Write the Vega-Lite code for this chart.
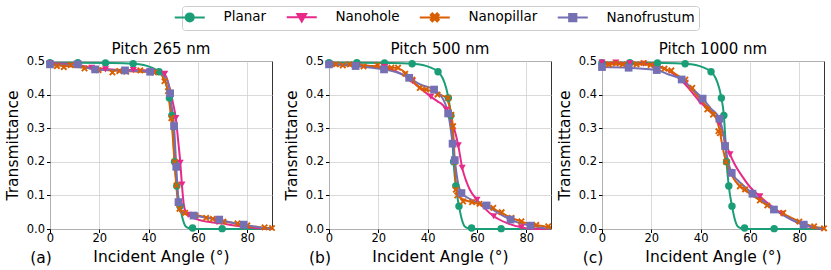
{
"$schema": "https://vega.github.io/schema/vega-lite/v6.json",
"padding": {"left": 4, "top": 5, "right": 5, "bottom": 5},
"config": {
  "font": "DejaVu Sans",
  "view": {"stroke": "#333333", "strokeWidth": 1},
  "axis": {"labelFont": "DejaVu Sans", "labelFontSize": 11.5, "labelColor": "black", "titleFont": "DejaVu Sans", "titleFontSize": 15.5, "titleFontWeight": "normal", "titleColor": "black", "tickColor": "black", "tickSize": 3.5, "domain": false, "gridColor": "#d0d0d0", "gridWidth": 0.8, "labelPadding": 2, "labelFlush": false, "labelOverlap": false},
  "axisY": {"titlePadding": 6},
  "axisX": {"titlePadding": 6, "labelPadding": -0.5},
  "title": {"font": "DejaVu Sans", "fontSize": 15, "fontWeight": "normal", "color": "black", "frame": "group", "anchor": "middle", "offset": -2}
},
"data": {"values": [
{"p":"Pitch 265 nm","s":"Planar","k":"f","a":0,"t":0.495},{"p":"Pitch 265 nm","s":"Planar","k":"f","a":25,"t":0.494},{"p":"Pitch 265 nm","s":"Planar","k":"f","a":33.7,"t":0.492},{"p":"Pitch 265 nm","s":"Planar","k":"f","a":38,"t":0.488},{"p":"Pitch 265 nm","s":"Planar","k":"f","a":41,"t":0.481},{"p":"Pitch 265 nm","s":"Planar","k":"f","a":44.2,"t":0.468},{"p":"Pitch 265 nm","s":"Planar","k":"f","a":46,"t":0.45},{"p":"Pitch 265 nm","s":"Planar","k":"f","a":47.5,"t":0.42},{"p":"Pitch 265 nm","s":"Planar","k":"f","a":48.4,"t":0.39},{"p":"Pitch 265 nm","s":"Planar","k":"f","a":49.4,"t":0.338},{"p":"Pitch 265 nm","s":"Planar","k":"f","a":50,"t":0.27},{"p":"Pitch 265 nm","s":"Planar","k":"f","a":50.5,"t":0.2},{"p":"Pitch 265 nm","s":"Planar","k":"f","a":51.4,"t":0.128},{"p":"Pitch 265 nm","s":"Planar","k":"f","a":52.7,"t":0.068},{"p":"Pitch 265 nm","s":"Planar","k":"f","a":53.8,"t":0.03},{"p":"Pitch 265 nm","s":"Planar","k":"f","a":55,"t":0.008},{"p":"Pitch 265 nm","s":"Planar","k":"f","a":56.5,"t":0.002},{"p":"Pitch 265 nm","s":"Planar","k":"f","a":58,"t":0},{"p":"Pitch 265 nm","s":"Planar","k":"f","a":90,"t":0},
{"p":"Pitch 265 nm","s":"Planar","k":"p","a":0,"t":0.495},{"p":"Pitch 265 nm","s":"Planar","k":"p","a":11.3,"t":0.495},{"p":"Pitch 265 nm","s":"Planar","k":"p","a":22.5,"t":0.494},{"p":"Pitch 265 nm","s":"Planar","k":"p","a":33.7,"t":0.492},{"p":"Pitch 265 nm","s":"Planar","k":"p","a":44.2,"t":0.468},{"p":"Pitch 265 nm","s":"Planar","k":"p","a":48.4,"t":0.39},{"p":"Pitch 265 nm","s":"Planar","k":"p","a":49.4,"t":0.338},{"p":"Pitch 265 nm","s":"Planar","k":"p","a":50.5,"t":0.2},{"p":"Pitch 265 nm","s":"Planar","k":"p","a":51.4,"t":0.128},{"p":"Pitch 265 nm","s":"Planar","k":"p","a":52.7,"t":0.068},{"p":"Pitch 265 nm","s":"Planar","k":"p","a":57.8,"t":0.003},{"p":"Pitch 265 nm","s":"Planar","k":"p","a":69.8,"t":0.001},

{"p":"Pitch 500 nm","s":"Planar","k":"f","a":0,"t":0.495},{"p":"Pitch 500 nm","s":"Planar","k":"f","a":25,"t":0.494},{"p":"Pitch 500 nm","s":"Planar","k":"f","a":33.7,"t":0.492},{"p":"Pitch 500 nm","s":"Planar","k":"f","a":38,"t":0.488},{"p":"Pitch 500 nm","s":"Planar","k":"f","a":41,"t":0.481},{"p":"Pitch 500 nm","s":"Planar","k":"f","a":44.2,"t":0.468},{"p":"Pitch 500 nm","s":"Planar","k":"f","a":46,"t":0.45},{"p":"Pitch 500 nm","s":"Planar","k":"f","a":47.5,"t":0.42},{"p":"Pitch 500 nm","s":"Planar","k":"f","a":48.4,"t":0.39},{"p":"Pitch 500 nm","s":"Planar","k":"f","a":49.4,"t":0.338},{"p":"Pitch 500 nm","s":"Planar","k":"f","a":50,"t":0.27},{"p":"Pitch 500 nm","s":"Planar","k":"f","a":50.5,"t":0.2},{"p":"Pitch 500 nm","s":"Planar","k":"f","a":51.4,"t":0.128},{"p":"Pitch 500 nm","s":"Planar","k":"f","a":52.7,"t":0.068},{"p":"Pitch 500 nm","s":"Planar","k":"f","a":53.8,"t":0.03},{"p":"Pitch 500 nm","s":"Planar","k":"f","a":55,"t":0.008},{"p":"Pitch 500 nm","s":"Planar","k":"f","a":56.5,"t":0.002},{"p":"Pitch 500 nm","s":"Planar","k":"f","a":58,"t":0},{"p":"Pitch 500 nm","s":"Planar","k":"f","a":90,"t":0},
{"p":"Pitch 500 nm","s":"Planar","k":"p","a":0,"t":0.495},{"p":"Pitch 500 nm","s":"Planar","k":"p","a":11.3,"t":0.495},{"p":"Pitch 500 nm","s":"Planar","k":"p","a":22.5,"t":0.494},{"p":"Pitch 500 nm","s":"Planar","k":"p","a":33.7,"t":0.492},{"p":"Pitch 500 nm","s":"Planar","k":"p","a":44.2,"t":0.468},{"p":"Pitch 500 nm","s":"Planar","k":"p","a":48.4,"t":0.39},{"p":"Pitch 500 nm","s":"Planar","k":"p","a":49.4,"t":0.338},{"p":"Pitch 500 nm","s":"Planar","k":"p","a":50.5,"t":0.2},{"p":"Pitch 500 nm","s":"Planar","k":"p","a":51.4,"t":0.128},{"p":"Pitch 500 nm","s":"Planar","k":"p","a":52.7,"t":0.068},{"p":"Pitch 500 nm","s":"Planar","k":"p","a":57.8,"t":0.003},{"p":"Pitch 500 nm","s":"Planar","k":"p","a":69.8,"t":0.001},

{"p":"Pitch 1000 nm","s":"Planar","k":"f","a":0,"t":0.495},{"p":"Pitch 1000 nm","s":"Planar","k":"f","a":25,"t":0.494},{"p":"Pitch 1000 nm","s":"Planar","k":"f","a":33.7,"t":0.492},{"p":"Pitch 1000 nm","s":"Planar","k":"f","a":38,"t":0.488},{"p":"Pitch 1000 nm","s":"Planar","k":"f","a":41,"t":0.481},{"p":"Pitch 1000 nm","s":"Planar","k":"f","a":44.2,"t":0.468},{"p":"Pitch 1000 nm","s":"Planar","k":"f","a":46,"t":0.45},{"p":"Pitch 1000 nm","s":"Planar","k":"f","a":47.5,"t":0.42},{"p":"Pitch 1000 nm","s":"Planar","k":"f","a":48.4,"t":0.39},{"p":"Pitch 1000 nm","s":"Planar","k":"f","a":49.4,"t":0.338},{"p":"Pitch 1000 nm","s":"Planar","k":"f","a":50,"t":0.27},{"p":"Pitch 1000 nm","s":"Planar","k":"f","a":50.5,"t":0.2},{"p":"Pitch 1000 nm","s":"Planar","k":"f","a":51.4,"t":0.128},{"p":"Pitch 1000 nm","s":"Planar","k":"f","a":52.7,"t":0.068},{"p":"Pitch 1000 nm","s":"Planar","k":"f","a":53.8,"t":0.03},{"p":"Pitch 1000 nm","s":"Planar","k":"f","a":55,"t":0.008},{"p":"Pitch 1000 nm","s":"Planar","k":"f","a":56.5,"t":0.002},{"p":"Pitch 1000 nm","s":"Planar","k":"f","a":58,"t":0},{"p":"Pitch 1000 nm","s":"Planar","k":"f","a":90,"t":0},
{"p":"Pitch 1000 nm","s":"Planar","k":"p","a":0,"t":0.495},{"p":"Pitch 1000 nm","s":"Planar","k":"p","a":11.3,"t":0.495},{"p":"Pitch 1000 nm","s":"Planar","k":"p","a":22.5,"t":0.494},{"p":"Pitch 1000 nm","s":"Planar","k":"p","a":33.7,"t":0.492},{"p":"Pitch 1000 nm","s":"Planar","k":"p","a":44.2,"t":0.468},{"p":"Pitch 1000 nm","s":"Planar","k":"p","a":48.4,"t":0.39},{"p":"Pitch 1000 nm","s":"Planar","k":"p","a":49.4,"t":0.338},{"p":"Pitch 1000 nm","s":"Planar","k":"p","a":50.5,"t":0.2},{"p":"Pitch 1000 nm","s":"Planar","k":"p","a":51.4,"t":0.128},{"p":"Pitch 1000 nm","s":"Planar","k":"p","a":52.7,"t":0.068},{"p":"Pitch 1000 nm","s":"Planar","k":"p","a":57.8,"t":0.003},{"p":"Pitch 1000 nm","s":"Planar","k":"p","a":69.8,"t":0.001},

{"p":"Pitch 265 nm","s":"Nanohole","k":"f","a":0,"t":0.493},{"p":"Pitch 265 nm","s":"Nanohole","k":"f","a":10,"t":0.49},{"p":"Pitch 265 nm","s":"Nanohole","k":"f","a":17,"t":0.48},{"p":"Pitch 265 nm","s":"Nanohole","k":"f","a":25,"t":0.475},{"p":"Pitch 265 nm","s":"Nanohole","k":"f","a":35,"t":0.473},{"p":"Pitch 265 nm","s":"Nanohole","k":"f","a":42,"t":0.472},{"p":"Pitch 265 nm","s":"Nanohole","k":"f","a":45,"t":0.468},{"p":"Pitch 265 nm","s":"Nanohole","k":"f","a":47,"t":0.455},{"p":"Pitch 265 nm","s":"Nanohole","k":"f","a":48.5,"t":0.42},{"p":"Pitch 265 nm","s":"Nanohole","k":"f","a":50,"t":0.37},{"p":"Pitch 265 nm","s":"Nanohole","k":"f","a":51,"t":0.33},{"p":"Pitch 265 nm","s":"Nanohole","k":"f","a":52,"t":0.26},{"p":"Pitch 265 nm","s":"Nanohole","k":"f","a":52.8,"t":0.2},{"p":"Pitch 265 nm","s":"Nanohole","k":"f","a":53.5,"t":0.13},{"p":"Pitch 265 nm","s":"Nanohole","k":"f","a":54.3,"t":0.07},{"p":"Pitch 265 nm","s":"Nanohole","k":"f","a":55.5,"t":0.045},{"p":"Pitch 265 nm","s":"Nanohole","k":"f","a":60,"t":0.028},{"p":"Pitch 265 nm","s":"Nanohole","k":"f","a":70,"t":0.016},{"p":"Pitch 265 nm","s":"Nanohole","k":"f","a":78,"t":0.007},{"p":"Pitch 265 nm","s":"Nanohole","k":"f","a":85,"t":0.002},{"p":"Pitch 265 nm","s":"Nanohole","k":"f","a":90,"t":0},
{"p":"Pitch 265 nm","s":"Nanohole","k":"p","a":0,"t":0.493},{"p":"Pitch 265 nm","s":"Nanohole","k":"p","a":11.3,"t":0.49},{"p":"Pitch 265 nm","s":"Nanohole","k":"p","a":16.9,"t":0.48},{"p":"Pitch 265 nm","s":"Nanohole","k":"p","a":22.5,"t":0.475},{"p":"Pitch 265 nm","s":"Nanohole","k":"p","a":33.8,"t":0.473},{"p":"Pitch 265 nm","s":"Nanohole","k":"p","a":46.5,"t":0.462},{"p":"Pitch 265 nm","s":"Nanohole","k":"p","a":51,"t":0.33},{"p":"Pitch 265 nm","s":"Nanohole","k":"p","a":52.8,"t":0.197},{"p":"Pitch 265 nm","s":"Nanohole","k":"p","a":53.5,"t":0.132},{"p":"Pitch 265 nm","s":"Nanohole","k":"p","a":56,"t":0.042},{"p":"Pitch 265 nm","s":"Nanohole","k":"p","a":67.7,"t":0.02},{"p":"Pitch 265 nm","s":"Nanohole","k":"p","a":78,"t":0.007},

{"p":"Pitch 265 nm","s":"Nanopillar","k":"f","a":0,"t":0.487},{"p":"Pitch 265 nm","s":"Nanopillar","k":"f","a":10,"t":0.483},{"p":"Pitch 265 nm","s":"Nanopillar","k":"f","a":20,"t":0.475},{"p":"Pitch 265 nm","s":"Nanopillar","k":"f","a":30,"t":0.47},{"p":"Pitch 265 nm","s":"Nanopillar","k":"f","a":40,"t":0.468},{"p":"Pitch 265 nm","s":"Nanopillar","k":"f","a":44,"t":0.465},{"p":"Pitch 265 nm","s":"Nanopillar","k":"f","a":46,"t":0.45},{"p":"Pitch 265 nm","s":"Nanopillar","k":"f","a":47.5,"t":0.42},{"p":"Pitch 265 nm","s":"Nanopillar","k":"f","a":48.5,"t":0.37},{"p":"Pitch 265 nm","s":"Nanopillar","k":"f","a":49.5,"t":0.3},{"p":"Pitch 265 nm","s":"Nanopillar","k":"f","a":50.5,"t":0.2},{"p":"Pitch 265 nm","s":"Nanopillar","k":"f","a":51.3,"t":0.12},{"p":"Pitch 265 nm","s":"Nanopillar","k":"f","a":52,"t":0.07},{"p":"Pitch 265 nm","s":"Nanopillar","k":"f","a":53,"t":0.05},{"p":"Pitch 265 nm","s":"Nanopillar","k":"f","a":55,"t":0.044},{"p":"Pitch 265 nm","s":"Nanopillar","k":"f","a":60,"t":0.04},{"p":"Pitch 265 nm","s":"Nanopillar","k":"f","a":65,"t":0.032},{"p":"Pitch 265 nm","s":"Nanopillar","k":"f","a":70,"t":0.024},{"p":"Pitch 265 nm","s":"Nanopillar","k":"f","a":75,"t":0.017},{"p":"Pitch 265 nm","s":"Nanopillar","k":"f","a":80,"t":0.01},{"p":"Pitch 265 nm","s":"Nanopillar","k":"f","a":85,"t":0.005},{"p":"Pitch 265 nm","s":"Nanopillar","k":"f","a":90,"t":0.002},
{"p":"Pitch 265 nm","s":"Nanopillar","k":"p","a":2.8,"t":0.485},{"p":"Pitch 265 nm","s":"Nanopillar","k":"p","a":5.6,"t":0.482},{"p":"Pitch 265 nm","s":"Nanopillar","k":"p","a":8.4,"t":0.488},{"p":"Pitch 265 nm","s":"Nanopillar","k":"p","a":14,"t":0.478},{"p":"Pitch 265 nm","s":"Nanopillar","k":"p","a":19.7,"t":0.473},{"p":"Pitch 265 nm","s":"Nanopillar","k":"p","a":25.3,"t":0.466},{"p":"Pitch 265 nm","s":"Nanopillar","k":"p","a":28.1,"t":0.47},{"p":"Pitch 265 nm","s":"Nanopillar","k":"p","a":30.9,"t":0.468},{"p":"Pitch 265 nm","s":"Nanopillar","k":"p","a":36.6,"t":0.472},{"p":"Pitch 265 nm","s":"Nanopillar","k":"p","a":42.2,"t":0.466},{"p":"Pitch 265 nm","s":"Nanopillar","k":"p","a":46.4,"t":0.44},{"p":"Pitch 265 nm","s":"Nanopillar","k":"p","a":47.8,"t":0.41},{"p":"Pitch 265 nm","s":"Nanopillar","k":"p","a":49.2,"t":0.33},{"p":"Pitch 265 nm","s":"Nanopillar","k":"p","a":50.6,"t":0.2},{"p":"Pitch 265 nm","s":"Nanopillar","k":"p","a":51.3,"t":0.13},{"p":"Pitch 265 nm","s":"Nanopillar","k":"p","a":52.5,"t":0.06},{"p":"Pitch 265 nm","s":"Nanopillar","k":"p","a":54.8,"t":0.048},{"p":"Pitch 265 nm","s":"Nanopillar","k":"p","a":59,"t":0.04},{"p":"Pitch 265 nm","s":"Nanopillar","k":"p","a":63.3,"t":0.033},{"p":"Pitch 265 nm","s":"Nanopillar","k":"p","a":66,"t":0.03},{"p":"Pitch 265 nm","s":"Nanopillar","k":"p","a":70.3,"t":0.022},{"p":"Pitch 265 nm","s":"Nanopillar","k":"p","a":76,"t":0.017},{"p":"Pitch 265 nm","s":"Nanopillar","k":"p","a":80,"t":0.011},{"p":"Pitch 265 nm","s":"Nanopillar","k":"p","a":87,"t":0.005},{"p":"Pitch 265 nm","s":"Nanopillar","k":"p","a":90,"t":0.003},

{"p":"Pitch 265 nm","s":"Nanofrustum","k":"f","a":0,"t":0.49},{"p":"Pitch 265 nm","s":"Nanofrustum","k":"f","a":11,"t":0.488},{"p":"Pitch 265 nm","s":"Nanofrustum","k":"f","a":15,"t":0.48},{"p":"Pitch 265 nm","s":"Nanofrustum","k":"f","a":18,"t":0.475},{"p":"Pitch 265 nm","s":"Nanofrustum","k":"f","a":30,"t":0.472},{"p":"Pitch 265 nm","s":"Nanofrustum","k":"f","a":40,"t":0.468},{"p":"Pitch 265 nm","s":"Nanofrustum","k":"f","a":45,"t":0.462},{"p":"Pitch 265 nm","s":"Nanofrustum","k":"f","a":47,"t":0.45},{"p":"Pitch 265 nm","s":"Nanofrustum","k":"f","a":48.2,"t":0.425},{"p":"Pitch 265 nm","s":"Nanofrustum","k":"f","a":48.7,"t":0.404},{"p":"Pitch 265 nm","s":"Nanofrustum","k":"f","a":49.5,"t":0.355},{"p":"Pitch 265 nm","s":"Nanofrustum","k":"f","a":50.3,"t":0.306},{"p":"Pitch 265 nm","s":"Nanofrustum","k":"f","a":50.8,"t":0.24},{"p":"Pitch 265 nm","s":"Nanofrustum","k":"f","a":51.2,"t":0.185},{"p":"Pitch 265 nm","s":"Nanofrustum","k":"f","a":51.7,"t":0.12},{"p":"Pitch 265 nm","s":"Nanofrustum","k":"f","a":52.1,"t":0.08},{"p":"Pitch 265 nm","s":"Nanofrustum","k":"f","a":53,"t":0.055},{"p":"Pitch 265 nm","s":"Nanofrustum","k":"f","a":55,"t":0.045},{"p":"Pitch 265 nm","s":"Nanofrustum","k":"f","a":58.2,"t":0.04},{"p":"Pitch 265 nm","s":"Nanofrustum","k":"f","a":63,"t":0.034},{"p":"Pitch 265 nm","s":"Nanofrustum","k":"f","a":68.6,"t":0.028},{"p":"Pitch 265 nm","s":"Nanofrustum","k":"f","a":73,"t":0.02},{"p":"Pitch 265 nm","s":"Nanofrustum","k":"f","a":78.5,"t":0.013},{"p":"Pitch 265 nm","s":"Nanofrustum","k":"f","a":84,"t":0.006},{"p":"Pitch 265 nm","s":"Nanofrustum","k":"f","a":90,"t":0},
{"p":"Pitch 265 nm","s":"Nanofrustum","k":"p","a":0,"t":0.49},{"p":"Pitch 265 nm","s":"Nanofrustum","k":"p","a":11.2,"t":0.49},{"p":"Pitch 265 nm","s":"Nanofrustum","k":"p","a":18.3,"t":0.475},{"p":"Pitch 265 nm","s":"Nanofrustum","k":"p","a":30.4,"t":0.472},{"p":"Pitch 265 nm","s":"Nanofrustum","k":"p","a":40.6,"t":0.468},{"p":"Pitch 265 nm","s":"Nanofrustum","k":"p","a":48.7,"t":0.404},{"p":"Pitch 265 nm","s":"Nanofrustum","k":"p","a":50.3,"t":0.306},{"p":"Pitch 265 nm","s":"Nanofrustum","k":"p","a":51.2,"t":0.185},{"p":"Pitch 265 nm","s":"Nanofrustum","k":"p","a":52.1,"t":0.08},{"p":"Pitch 265 nm","s":"Nanofrustum","k":"p","a":58.2,"t":0.04},{"p":"Pitch 265 nm","s":"Nanofrustum","k":"p","a":68.6,"t":0.028},{"p":"Pitch 265 nm","s":"Nanofrustum","k":"p","a":78.5,"t":0.013},

{"p":"Pitch 500 nm","s":"Nanohole","k":"f","a":0,"t":0.49},{"p":"Pitch 500 nm","s":"Nanohole","k":"f","a":10,"t":0.488},{"p":"Pitch 500 nm","s":"Nanohole","k":"f","a":20,"t":0.483},{"p":"Pitch 500 nm","s":"Nanohole","k":"f","a":27,"t":0.47},{"p":"Pitch 500 nm","s":"Nanohole","k":"f","a":32,"t":0.45},{"p":"Pitch 500 nm","s":"Nanohole","k":"f","a":36,"t":0.425},{"p":"Pitch 500 nm","s":"Nanohole","k":"f","a":41.3,"t":0.394},{"p":"Pitch 500 nm","s":"Nanohole","k":"f","a":44,"t":0.38},{"p":"Pitch 500 nm","s":"Nanohole","k":"f","a":46,"t":0.37},{"p":"Pitch 500 nm","s":"Nanohole","k":"f","a":47.6,"t":0.355},{"p":"Pitch 500 nm","s":"Nanohole","k":"f","a":49,"t":0.33},{"p":"Pitch 500 nm","s":"Nanohole","k":"f","a":50.7,"t":0.3},{"p":"Pitch 500 nm","s":"Nanohole","k":"f","a":52.4,"t":0.249},{"p":"Pitch 500 nm","s":"Nanohole","k":"f","a":54,"t":0.182},{"p":"Pitch 500 nm","s":"Nanohole","k":"f","a":55.5,"t":0.145},{"p":"Pitch 500 nm","s":"Nanohole","k":"f","a":57.1,"t":0.117},{"p":"Pitch 500 nm","s":"Nanohole","k":"f","a":60,"t":0.087},{"p":"Pitch 500 nm","s":"Nanohole","k":"f","a":63,"t":0.062},{"p":"Pitch 500 nm","s":"Nanohole","k":"f","a":66.8,"t":0.038},{"p":"Pitch 500 nm","s":"Nanohole","k":"f","a":72,"t":0.018},{"p":"Pitch 500 nm","s":"Nanohole","k":"f","a":78,"t":0.005},{"p":"Pitch 500 nm","s":"Nanohole","k":"f","a":82,"t":0},{"p":"Pitch 500 nm","s":"Nanohole","k":"f","a":90,"t":0},
{"p":"Pitch 500 nm","s":"Nanohole","k":"p","a":0,"t":0.49},{"p":"Pitch 500 nm","s":"Nanohole","k":"p","a":11.3,"t":0.487},{"p":"Pitch 500 nm","s":"Nanohole","k":"p","a":22.5,"t":0.482},{"p":"Pitch 500 nm","s":"Nanohole","k":"p","a":33.8,"t":0.44},{"p":"Pitch 500 nm","s":"Nanohole","k":"p","a":41.3,"t":0.394},{"p":"Pitch 500 nm","s":"Nanohole","k":"p","a":47.6,"t":0.355},{"p":"Pitch 500 nm","s":"Nanohole","k":"p","a":52.4,"t":0.249},{"p":"Pitch 500 nm","s":"Nanohole","k":"p","a":54,"t":0.182},{"p":"Pitch 500 nm","s":"Nanohole","k":"p","a":60,"t":0.087},{"p":"Pitch 500 nm","s":"Nanohole","k":"p","a":66.8,"t":0.038},{"p":"Pitch 500 nm","s":"Nanohole","k":"p","a":78,"t":0.005},

{"p":"Pitch 500 nm","s":"Nanopillar","k":"f","a":0,"t":0.488},{"p":"Pitch 500 nm","s":"Nanopillar","k":"f","a":15,"t":0.486},{"p":"Pitch 500 nm","s":"Nanopillar","k":"f","a":22,"t":0.483},{"p":"Pitch 500 nm","s":"Nanopillar","k":"f","a":28,"t":0.478},{"p":"Pitch 500 nm","s":"Nanopillar","k":"f","a":31,"t":0.465},{"p":"Pitch 500 nm","s":"Nanopillar","k":"f","a":34,"t":0.44},{"p":"Pitch 500 nm","s":"Nanopillar","k":"f","a":37,"t":0.42},{"p":"Pitch 500 nm","s":"Nanopillar","k":"f","a":42,"t":0.41},{"p":"Pitch 500 nm","s":"Nanopillar","k":"f","a":45,"t":0.4},{"p":"Pitch 500 nm","s":"Nanopillar","k":"f","a":47.5,"t":0.39},{"p":"Pitch 500 nm","s":"Nanopillar","k":"f","a":49,"t":0.36},{"p":"Pitch 500 nm","s":"Nanopillar","k":"f","a":50,"t":0.32},{"p":"Pitch 500 nm","s":"Nanopillar","k":"f","a":50.6,"t":0.26},{"p":"Pitch 500 nm","s":"Nanopillar","k":"f","a":51.1,"t":0.18},{"p":"Pitch 500 nm","s":"Nanopillar","k":"f","a":51.6,"t":0.12},{"p":"Pitch 500 nm","s":"Nanopillar","k":"f","a":52.5,"t":0.1},{"p":"Pitch 500 nm","s":"Nanopillar","k":"f","a":54.4,"t":0.088},{"p":"Pitch 500 nm","s":"Nanopillar","k":"f","a":58,"t":0.08},{"p":"Pitch 500 nm","s":"Nanopillar","k":"f","a":62,"t":0.072},{"p":"Pitch 500 nm","s":"Nanopillar","k":"f","a":66.6,"t":0.06},{"p":"Pitch 500 nm","s":"Nanopillar","k":"f","a":72,"t":0.04},{"p":"Pitch 500 nm","s":"Nanopillar","k":"f","a":78,"t":0.022},{"p":"Pitch 500 nm","s":"Nanopillar","k":"f","a":84,"t":0.012},{"p":"Pitch 500 nm","s":"Nanopillar","k":"f","a":90,"t":0.005},
{"p":"Pitch 500 nm","s":"Nanopillar","k":"p","a":2.8,"t":0.49},{"p":"Pitch 500 nm","s":"Nanopillar","k":"p","a":5.6,"t":0.487},{"p":"Pitch 500 nm","s":"Nanopillar","k":"p","a":8.4,"t":0.49},{"p":"Pitch 500 nm","s":"Nanopillar","k":"p","a":14,"t":0.484},{"p":"Pitch 500 nm","s":"Nanopillar","k":"p","a":19.7,"t":0.487},{"p":"Pitch 500 nm","s":"Nanopillar","k":"p","a":25.3,"t":0.48},{"p":"Pitch 500 nm","s":"Nanopillar","k":"p","a":28,"t":0.48},{"p":"Pitch 500 nm","s":"Nanopillar","k":"p","a":30.9,"t":0.462},{"p":"Pitch 500 nm","s":"Nanopillar","k":"p","a":33.8,"t":0.445},{"p":"Pitch 500 nm","s":"Nanopillar","k":"p","a":36.8,"t":0.42},{"p":"Pitch 500 nm","s":"Nanopillar","k":"p","a":39.4,"t":0.415},{"p":"Pitch 500 nm","s":"Nanopillar","k":"p","a":44,"t":0.4},{"p":"Pitch 500 nm","s":"Nanopillar","k":"p","a":48.3,"t":0.39},{"p":"Pitch 500 nm","s":"Nanopillar","k":"p","a":49.6,"t":0.34},{"p":"Pitch 500 nm","s":"Nanopillar","k":"p","a":50.3,"t":0.306},{"p":"Pitch 500 nm","s":"Nanopillar","k":"p","a":51,"t":0.2},{"p":"Pitch 500 nm","s":"Nanopillar","k":"p","a":51.4,"t":0.117},{"p":"Pitch 500 nm","s":"Nanopillar","k":"p","a":52,"t":0.1},{"p":"Pitch 500 nm","s":"Nanopillar","k":"p","a":54.4,"t":0.082},{"p":"Pitch 500 nm","s":"Nanopillar","k":"p","a":58,"t":0.08},{"p":"Pitch 500 nm","s":"Nanopillar","k":"p","a":61,"t":0.075},{"p":"Pitch 500 nm","s":"Nanopillar","k":"p","a":66.6,"t":0.063},{"p":"Pitch 500 nm","s":"Nanopillar","k":"p","a":70,"t":0.05},{"p":"Pitch 500 nm","s":"Nanopillar","k":"p","a":74,"t":0.033},{"p":"Pitch 500 nm","s":"Nanopillar","k":"p","a":78,"t":0.023},{"p":"Pitch 500 nm","s":"Nanopillar","k":"p","a":84,"t":0.012},{"p":"Pitch 500 nm","s":"Nanopillar","k":"p","a":88.9,"t":0.008},

{"p":"Pitch 500 nm","s":"Nanofrustum","k":"f","a":0,"t":0.49},{"p":"Pitch 500 nm","s":"Nanofrustum","k":"f","a":10.8,"t":0.485},{"p":"Pitch 500 nm","s":"Nanofrustum","k":"f","a":22.3,"t":0.475},{"p":"Pitch 500 nm","s":"Nanofrustum","k":"f","a":28,"t":0.465},{"p":"Pitch 500 nm","s":"Nanofrustum","k":"f","a":32.5,"t":0.45},{"p":"Pitch 500 nm","s":"Nanofrustum","k":"f","a":37,"t":0.43},{"p":"Pitch 500 nm","s":"Nanofrustum","k":"f","a":42.6,"t":0.415},{"p":"Pitch 500 nm","s":"Nanofrustum","k":"f","a":45,"t":0.4},{"p":"Pitch 500 nm","s":"Nanofrustum","k":"f","a":47,"t":0.375},{"p":"Pitch 500 nm","s":"Nanofrustum","k":"f","a":48.3,"t":0.344},{"p":"Pitch 500 nm","s":"Nanofrustum","k":"f","a":49.3,"t":0.3},{"p":"Pitch 500 nm","s":"Nanofrustum","k":"f","a":50.1,"t":0.254},{"p":"Pitch 500 nm","s":"Nanofrustum","k":"f","a":51,"t":0.205},{"p":"Pitch 500 nm","s":"Nanofrustum","k":"f","a":52,"t":0.15},{"p":"Pitch 500 nm","s":"Nanofrustum","k":"f","a":53.7,"t":0.107},{"p":"Pitch 500 nm","s":"Nanofrustum","k":"f","a":57,"t":0.09},{"p":"Pitch 500 nm","s":"Nanofrustum","k":"f","a":63.9,"t":0.07},{"p":"Pitch 500 nm","s":"Nanofrustum","k":"f","a":68,"t":0.05},{"p":"Pitch 500 nm","s":"Nanofrustum","k":"f","a":73.6,"t":0.028},{"p":"Pitch 500 nm","s":"Nanofrustum","k":"f","a":78,"t":0.016},{"p":"Pitch 500 nm","s":"Nanofrustum","k":"f","a":81.7,"t":0.01},{"p":"Pitch 500 nm","s":"Nanofrustum","k":"f","a":86,"t":0.004},{"p":"Pitch 500 nm","s":"Nanofrustum","k":"f","a":90,"t":0},
{"p":"Pitch 500 nm","s":"Nanofrustum","k":"p","a":0,"t":0.49},{"p":"Pitch 500 nm","s":"Nanofrustum","k":"p","a":10.8,"t":0.485},{"p":"Pitch 500 nm","s":"Nanofrustum","k":"p","a":22.3,"t":0.475},{"p":"Pitch 500 nm","s":"Nanofrustum","k":"p","a":32.5,"t":0.45},{"p":"Pitch 500 nm","s":"Nanofrustum","k":"p","a":42.6,"t":0.415},{"p":"Pitch 500 nm","s":"Nanofrustum","k":"p","a":48.3,"t":0.344},{"p":"Pitch 500 nm","s":"Nanofrustum","k":"p","a":50.1,"t":0.254},{"p":"Pitch 500 nm","s":"Nanofrustum","k":"p","a":51,"t":0.205},{"p":"Pitch 500 nm","s":"Nanofrustum","k":"p","a":53.7,"t":0.107},{"p":"Pitch 500 nm","s":"Nanofrustum","k":"p","a":63.9,"t":0.07},{"p":"Pitch 500 nm","s":"Nanofrustum","k":"p","a":73.6,"t":0.028},{"p":"Pitch 500 nm","s":"Nanofrustum","k":"p","a":81.7,"t":0.01},

{"p":"Pitch 1000 nm","s":"Nanohole","k":"f","a":0,"t":0.495},{"p":"Pitch 1000 nm","s":"Nanohole","k":"f","a":10,"t":0.493},{"p":"Pitch 1000 nm","s":"Nanohole","k":"f","a":20,"t":0.49},{"p":"Pitch 1000 nm","s":"Nanohole","k":"f","a":26,"t":0.475},{"p":"Pitch 1000 nm","s":"Nanohole","k":"f","a":31,"t":0.45},{"p":"Pitch 1000 nm","s":"Nanohole","k":"f","a":35,"t":0.42},{"p":"Pitch 1000 nm","s":"Nanohole","k":"f","a":39,"t":0.385},{"p":"Pitch 1000 nm","s":"Nanohole","k":"f","a":43,"t":0.355},{"p":"Pitch 1000 nm","s":"Nanohole","k":"f","a":46,"t":0.335},{"p":"Pitch 1000 nm","s":"Nanohole","k":"f","a":48,"t":0.31},{"p":"Pitch 1000 nm","s":"Nanohole","k":"f","a":50,"t":0.26},{"p":"Pitch 1000 nm","s":"Nanohole","k":"f","a":51.9,"t":0.222},{"p":"Pitch 1000 nm","s":"Nanohole","k":"f","a":54,"t":0.19},{"p":"Pitch 1000 nm","s":"Nanohole","k":"f","a":57,"t":0.155},{"p":"Pitch 1000 nm","s":"Nanohole","k":"f","a":60,"t":0.125},{"p":"Pitch 1000 nm","s":"Nanohole","k":"f","a":64,"t":0.097},{"p":"Pitch 1000 nm","s":"Nanohole","k":"f","a":68,"t":0.072},{"p":"Pitch 1000 nm","s":"Nanohole","k":"f","a":73,"t":0.045},{"p":"Pitch 1000 nm","s":"Nanohole","k":"f","a":79,"t":0.02},{"p":"Pitch 1000 nm","s":"Nanohole","k":"f","a":85,"t":0.005},{"p":"Pitch 1000 nm","s":"Nanohole","k":"f","a":90,"t":0},
{"p":"Pitch 1000 nm","s":"Nanohole","k":"p","a":0,"t":0.495},{"p":"Pitch 1000 nm","s":"Nanohole","k":"p","a":5.6,"t":0.495},{"p":"Pitch 1000 nm","s":"Nanohole","k":"p","a":11.3,"t":0.493},{"p":"Pitch 1000 nm","s":"Nanohole","k":"p","a":16.9,"t":0.492},{"p":"Pitch 1000 nm","s":"Nanohole","k":"p","a":33.8,"t":0.435},{"p":"Pitch 1000 nm","s":"Nanohole","k":"p","a":39.8,"t":0.378},{"p":"Pitch 1000 nm","s":"Nanohole","k":"p","a":47.5,"t":0.315},{"p":"Pitch 1000 nm","s":"Nanohole","k":"p","a":51.9,"t":0.222},{"p":"Pitch 1000 nm","s":"Nanohole","k":"p","a":64,"t":0.097},{"p":"Pitch 1000 nm","s":"Nanohole","k":"p","a":73,"t":0.045},

{"p":"Pitch 1000 nm","s":"Nanopillar","k":"f","a":0,"t":0.49},{"p":"Pitch 1000 nm","s":"Nanopillar","k":"f","a":15,"t":0.49},{"p":"Pitch 1000 nm","s":"Nanopillar","k":"f","a":20,"t":0.487},{"p":"Pitch 1000 nm","s":"Nanopillar","k":"f","a":26,"t":0.475},{"p":"Pitch 1000 nm","s":"Nanopillar","k":"f","a":32,"t":0.45},{"p":"Pitch 1000 nm","s":"Nanopillar","k":"f","a":36,"t":0.42},{"p":"Pitch 1000 nm","s":"Nanopillar","k":"f","a":40,"t":0.385},{"p":"Pitch 1000 nm","s":"Nanopillar","k":"f","a":43,"t":0.36},{"p":"Pitch 1000 nm","s":"Nanopillar","k":"f","a":46,"t":0.335},{"p":"Pitch 1000 nm","s":"Nanopillar","k":"f","a":47.5,"t":0.3},{"p":"Pitch 1000 nm","s":"Nanopillar","k":"f","a":49,"t":0.24},{"p":"Pitch 1000 nm","s":"Nanopillar","k":"f","a":50.3,"t":0.2},{"p":"Pitch 1000 nm","s":"Nanopillar","k":"f","a":51.5,"t":0.18},{"p":"Pitch 1000 nm","s":"Nanopillar","k":"f","a":53,"t":0.155},{"p":"Pitch 1000 nm","s":"Nanopillar","k":"f","a":56,"t":0.127},{"p":"Pitch 1000 nm","s":"Nanopillar","k":"f","a":60,"t":0.105},{"p":"Pitch 1000 nm","s":"Nanopillar","k":"f","a":64,"t":0.085},{"p":"Pitch 1000 nm","s":"Nanopillar","k":"f","a":68,"t":0.065},{"p":"Pitch 1000 nm","s":"Nanopillar","k":"f","a":73.5,"t":0.045},{"p":"Pitch 1000 nm","s":"Nanopillar","k":"f","a":80,"t":0.022},{"p":"Pitch 1000 nm","s":"Nanopillar","k":"f","a":86,"t":0.007},{"p":"Pitch 1000 nm","s":"Nanopillar","k":"f","a":90,"t":0.002},
{"p":"Pitch 1000 nm","s":"Nanopillar","k":"p","a":2.8,"t":0.49},{"p":"Pitch 1000 nm","s":"Nanopillar","k":"p","a":5.6,"t":0.493},{"p":"Pitch 1000 nm","s":"Nanopillar","k":"p","a":8.4,"t":0.49},{"p":"Pitch 1000 nm","s":"Nanopillar","k":"p","a":14,"t":0.49},{"p":"Pitch 1000 nm","s":"Nanopillar","k":"p","a":16.9,"t":0.494},{"p":"Pitch 1000 nm","s":"Nanopillar","k":"p","a":19.7,"t":0.488},{"p":"Pitch 1000 nm","s":"Nanopillar","k":"p","a":25.3,"t":0.477},{"p":"Pitch 1000 nm","s":"Nanopillar","k":"p","a":28.1,"t":0.472},{"p":"Pitch 1000 nm","s":"Nanopillar","k":"p","a":33.8,"t":0.445},{"p":"Pitch 1000 nm","s":"Nanopillar","k":"p","a":36.6,"t":0.42},{"p":"Pitch 1000 nm","s":"Nanopillar","k":"p","a":42.7,"t":0.356},{"p":"Pitch 1000 nm","s":"Nanopillar","k":"p","a":45,"t":0.34},{"p":"Pitch 1000 nm","s":"Nanopillar","k":"p","a":47.2,"t":0.291},{"p":"Pitch 1000 nm","s":"Nanopillar","k":"p","a":47.8,"t":0.285},{"p":"Pitch 1000 nm","s":"Nanopillar","k":"p","a":50.3,"t":0.2},{"p":"Pitch 1000 nm","s":"Nanopillar","k":"p","a":52,"t":0.17},{"p":"Pitch 1000 nm","s":"Nanopillar","k":"p","a":55.9,"t":0.127},{"p":"Pitch 1000 nm","s":"Nanopillar","k":"p","a":58,"t":0.118},{"p":"Pitch 1000 nm","s":"Nanopillar","k":"p","a":64,"t":0.085},{"p":"Pitch 1000 nm","s":"Nanopillar","k":"p","a":67,"t":0.07},{"p":"Pitch 1000 nm","s":"Nanopillar","k":"p","a":73.5,"t":0.048},{"p":"Pitch 1000 nm","s":"Nanopillar","k":"p","a":80,"t":0.022},{"p":"Pitch 1000 nm","s":"Nanopillar","k":"p","a":86,"t":0.008},{"p":"Pitch 1000 nm","s":"Nanopillar","k":"p","a":90,"t":0.002},

{"p":"Pitch 1000 nm","s":"Nanofrustum","k":"f","a":0,"t":0.482},{"p":"Pitch 1000 nm","s":"Nanofrustum","k":"f","a":10.8,"t":0.48},{"p":"Pitch 1000 nm","s":"Nanofrustum","k":"f","a":22.2,"t":0.473},{"p":"Pitch 1000 nm","s":"Nanofrustum","k":"f","a":27,"t":0.46},{"p":"Pitch 1000 nm","s":"Nanofrustum","k":"f","a":32.3,"t":0.445},{"p":"Pitch 1000 nm","s":"Nanofrustum","k":"f","a":37,"t":0.415},{"p":"Pitch 1000 nm","s":"Nanofrustum","k":"f","a":40.8,"t":0.388},{"p":"Pitch 1000 nm","s":"Nanofrustum","k":"f","a":44,"t":0.36},{"p":"Pitch 1000 nm","s":"Nanofrustum","k":"f","a":47.6,"t":0.328},{"p":"Pitch 1000 nm","s":"Nanofrustum","k":"f","a":49,"t":0.29},{"p":"Pitch 1000 nm","s":"Nanofrustum","k":"f","a":49.9,"t":0.247},{"p":"Pitch 1000 nm","s":"Nanofrustum","k":"f","a":51,"t":0.205},{"p":"Pitch 1000 nm","s":"Nanofrustum","k":"f","a":52.6,"t":0.167},{"p":"Pitch 1000 nm","s":"Nanofrustum","k":"f","a":55,"t":0.145},{"p":"Pitch 1000 nm","s":"Nanofrustum","k":"f","a":58,"t":0.125},{"p":"Pitch 1000 nm","s":"Nanofrustum","k":"f","a":61,"t":0.105},{"p":"Pitch 1000 nm","s":"Nanofrustum","k":"f","a":65,"t":0.085},{"p":"Pitch 1000 nm","s":"Nanofrustum","k":"f","a":69.7,"t":0.058},{"p":"Pitch 1000 nm","s":"Nanofrustum","k":"f","a":75,"t":0.035},{"p":"Pitch 1000 nm","s":"Nanofrustum","k":"f","a":81.8,"t":0.013},{"p":"Pitch 1000 nm","s":"Nanofrustum","k":"f","a":86,"t":0.005},{"p":"Pitch 1000 nm","s":"Nanofrustum","k":"f","a":90,"t":0},
{"p":"Pitch 1000 nm","s":"Nanofrustum","k":"p","a":0,"t":0.482},{"p":"Pitch 1000 nm","s":"Nanofrustum","k":"p","a":10.8,"t":0.48},{"p":"Pitch 1000 nm","s":"Nanofrustum","k":"p","a":22.2,"t":0.473},{"p":"Pitch 1000 nm","s":"Nanofrustum","k":"p","a":32.3,"t":0.445},{"p":"Pitch 1000 nm","s":"Nanofrustum","k":"p","a":40.8,"t":0.388},{"p":"Pitch 1000 nm","s":"Nanofrustum","k":"p","a":47.6,"t":0.328},{"p":"Pitch 1000 nm","s":"Nanofrustum","k":"p","a":49.9,"t":0.247},{"p":"Pitch 1000 nm","s":"Nanofrustum","k":"p","a":52.6,"t":0.167},{"p":"Pitch 1000 nm","s":"Nanofrustum","k":"p","a":61,"t":0.105},{"p":"Pitch 1000 nm","s":"Nanofrustum","k":"p","a":69.7,"t":0.058},{"p":"Pitch 1000 nm","s":"Nanofrustum","k":"p","a":81.8,"t":0.013}
]},
"spacing": 0,
"resolve": {"scale": {"color": "shared"}, "legend": {"color": "shared"}},
"hconcat": [
{
  "title": "Pitch 265 nm",
  "width": 222, "height": 168,
  "encoding": {
    "x": {"field": "a", "type": "quantitative", "scale": {"domain": [0, 90], "nice": false}, "axis": {"values": [0, 20, 40, 60, 80], "title": "Incident Angle (°)"}},
    "y": {"field": "t", "type": "quantitative", "scale": {"domain": [0, 0.5], "nice": false}, "axis": {"values": [0, 0.1, 0.2, 0.3, 0.4, 0.5], "format": ".1f", "title": "Transmittance"}},
    "color": {"field": "s", "type": "nominal", "scale": {"domain": ["Planar", "Nanohole", "Nanopillar", "Nanofrustum"], "range": ["#1b9e77", "#e7298a", "#d95f02", "#7570b3"]}}
  },
  "layer": [
    {"transform": [{"filter": "datum.p === 'Pitch 265 nm' && datum.k === 'p'"}],
     "mark": {"type": "point", "filled": true, "opacity": 0},
     "encoding": {
       "color": {"field": "s", "type": "nominal", "scale": {"domain": ["Planar", "Nanohole", "Nanopillar", "Nanofrustum"], "range": ["#1b9e77", "#e7298a", "#d95f02", "#7570b3"]},
         "legend": {"title": null, "orient": "none", "legendX": 132, "legendY": -55, "direction": "horizontal", "columns": 4, "symbolSize": 64, "symbolStrokeWidth": 2, "symbolOpacity": 1, "symbolOffset": -3, "labelOffset": 27, "columnPadding": 15, "padding": 4, "strokeColor": "#cccccc", "cornerRadius": 3, "fillColor": "white", "labelFontSize": 13.5, "labelColor": "black", "labelFont": "DejaVu Sans"}},
       "stroke": {"field": "s", "type": "nominal", "scale": {"domain": ["Planar", "Nanohole", "Nanopillar", "Nanofrustum"], "range": ["#1b9e77", "#e7298a", "#d95f02", "#7570b3"]}},
       "shape": {"field": "s", "type": "nominal", "scale": {"domain": ["Planar", "Nanohole", "Nanopillar", "Nanofrustum"], "range": [
         "M-3.75,0H3.75M-1,0A1,1,0,1,0,1,0A1,1,0,1,0,-1,0Z",
         "M-3.75,0H3.75M-1.1,-0.8L1.1,-0.8L0,1.1Z",
         "M-3.75,0H3.75M-1,-0.6L-0.6,-1L0,-0.4L0.6,-1L1,-0.6L0.4,0L1,0.6L0.6,1L0,0.4L-0.6,1L-1,0.6L-0.4,0Z",
         "M-3.75,0H3.75M-0.9,-0.9H0.9V0.9H-0.9Z"]}}
     }},
    {"transform": [{"filter": "datum.p === 'Pitch 265 nm' && datum.k === 'f'"}], "mark": {"type": "line", "interpolate": "monotone", "strokeWidth": 2}},
    {"transform": [{"filter": "datum.p === 'Pitch 265 nm' && datum.k === 'p' && datum.s === 'Planar'"}], "mark": {"type": "point", "shape": "circle", "filled": true, "size": 55, "opacity": 1}},
    {"transform": [{"filter": "datum.p === 'Pitch 265 nm' && datum.k === 'p' && datum.s === 'Nanohole'"}], "mark": {"type": "point", "shape": "triangle-down", "filled": true, "size": 50, "opacity": 1}},
    {"transform": [{"filter": "datum.p === 'Pitch 265 nm' && datum.k === 'p' && datum.s === 'Nanopillar'"}], "mark": {"type": "point", "shape": "M-1,-0.6L-0.6,-1L0,-0.4L0.6,-1L1,-0.6L0.4,0L1,0.6L0.6,1L0,0.4L-0.6,1L-1,0.6L-0.4,0Z", "filled": true, "size": 45, "opacity": 1}},
    {"transform": [{"filter": "datum.p === 'Pitch 265 nm' && datum.k === 'p' && datum.s === 'Nanofrustum'"}], "mark": {"type": "point", "shape": "square", "filled": true, "size": 60, "opacity": 1}},
    {"data": {"values": [{"lab": "(a)"}]}, "mark": {"type": "text", "fontSize": 15.5, "font": "DejaVu Sans", "align": "center", "baseline": "middle", "invalid": "show", "clip": false, "dx": -9, "dy": 29},
     "encoding": {"x": {"datum": 0, "type": "quantitative"}, "y": {"datum": 0, "type": "quantitative"}, "text": {"field": "lab", "type": "nominal"}, "color": {"value": "black"}}}
  ]
},
{
  "title": "Pitch 500 nm",
  "width": 222, "height": 168,
  "encoding": {
    "x": {"field": "a", "type": "quantitative", "scale": {"domain": [0, 90], "nice": false}, "axis": {"values": [0, 20, 40, 60, 80], "title": "Incident Angle (°)"}},
    "y": {"field": "t", "type": "quantitative", "scale": {"domain": [0, 0.5], "nice": false}, "axis": {"values": [0, 0.1, 0.2, 0.3, 0.4, 0.5], "format": ".1f", "title": "Transmittance"}},
    "color": {"field": "s", "type": "nominal", "scale": {"domain": ["Planar", "Nanohole", "Nanopillar", "Nanofrustum"], "range": ["#1b9e77", "#e7298a", "#d95f02", "#7570b3"]}}
  },
  "layer": [
    {"transform": [{"filter": "datum.p === 'Pitch 500 nm' && datum.k === 'f'"}], "mark": {"type": "line", "interpolate": "monotone", "strokeWidth": 2}},
    {"transform": [{"filter": "datum.p === 'Pitch 500 nm' && datum.k === 'p' && datum.s === 'Planar'"}], "mark": {"type": "point", "shape": "circle", "filled": true, "size": 55, "opacity": 1}},
    {"transform": [{"filter": "datum.p === 'Pitch 500 nm' && datum.k === 'p' && datum.s === 'Nanohole'"}], "mark": {"type": "point", "shape": "triangle-down", "filled": true, "size": 50, "opacity": 1}},
    {"transform": [{"filter": "datum.p === 'Pitch 500 nm' && datum.k === 'p' && datum.s === 'Nanopillar'"}], "mark": {"type": "point", "shape": "M-1,-0.6L-0.6,-1L0,-0.4L0.6,-1L1,-0.6L0.4,0L1,0.6L0.6,1L0,0.4L-0.6,1L-1,0.6L-0.4,0Z", "filled": true, "size": 45, "opacity": 1}},
    {"transform": [{"filter": "datum.p === 'Pitch 500 nm' && datum.k === 'p' && datum.s === 'Nanofrustum'"}], "mark": {"type": "point", "shape": "square", "filled": true, "size": 60, "opacity": 1}},
    {"data": {"values": [{"lab": "(b)"}]}, "mark": {"type": "text", "fontSize": 15.5, "font": "DejaVu Sans", "align": "center", "baseline": "middle", "invalid": "show", "clip": false, "dx": -9, "dy": 29},
     "encoding": {"x": {"datum": 0, "type": "quantitative"}, "y": {"datum": 0, "type": "quantitative"}, "text": {"field": "lab", "type": "nominal"}, "color": {"value": "black"}}}
  ]
},
{
  "title": "Pitch 1000 nm",
  "width": 222, "height": 168,
  "encoding": {
    "x": {"field": "a", "type": "quantitative", "scale": {"domain": [0, 90], "nice": false}, "axis": {"values": [0, 20, 40, 60, 80], "title": "Incident Angle (°)"}},
    "y": {"field": "t", "type": "quantitative", "scale": {"domain": [0, 0.5], "nice": false}, "axis": {"values": [0, 0.1, 0.2, 0.3, 0.4, 0.5], "format": ".1f", "title": "Transmittance"}},
    "color": {"field": "s", "type": "nominal", "scale": {"domain": ["Planar", "Nanohole", "Nanopillar", "Nanofrustum"], "range": ["#1b9e77", "#e7298a", "#d95f02", "#7570b3"]}}
  },
  "layer": [
    {"transform": [{"filter": "datum.p === 'Pitch 1000 nm' && datum.k === 'f'"}], "mark": {"type": "line", "interpolate": "monotone", "strokeWidth": 2}},
    {"transform": [{"filter": "datum.p === 'Pitch 1000 nm' && datum.k === 'p' && datum.s === 'Planar'"}], "mark": {"type": "point", "shape": "circle", "filled": true, "size": 55, "opacity": 1}},
    {"transform": [{"filter": "datum.p === 'Pitch 1000 nm' && datum.k === 'p' && datum.s === 'Nanohole'"}], "mark": {"type": "point", "shape": "triangle-down", "filled": true, "size": 50, "opacity": 1}},
    {"transform": [{"filter": "datum.p === 'Pitch 1000 nm' && datum.k === 'p' && datum.s === 'Nanopillar'"}], "mark": {"type": "point", "shape": "M-1,-0.6L-0.6,-1L0,-0.4L0.6,-1L1,-0.6L0.4,0L1,0.6L0.6,1L0,0.4L-0.6,1L-1,0.6L-0.4,0Z", "filled": true, "size": 45, "opacity": 1}},
    {"transform": [{"filter": "datum.p === 'Pitch 1000 nm' && datum.k === 'p' && datum.s === 'Nanofrustum'"}], "mark": {"type": "point", "shape": "square", "filled": true, "size": 60, "opacity": 1}},
    {"data": {"values": [{"lab": "(c)"}]}, "mark": {"type": "text", "fontSize": 15.5, "font": "DejaVu Sans", "align": "center", "baseline": "middle", "invalid": "show", "clip": false, "dx": -9, "dy": 29},
     "encoding": {"x": {"datum": 0, "type": "quantitative"}, "y": {"datum": 0, "type": "quantitative"}, "text": {"field": "lab", "type": "nominal"}, "color": {"value": "black"}}}
  ]
}
]
}
